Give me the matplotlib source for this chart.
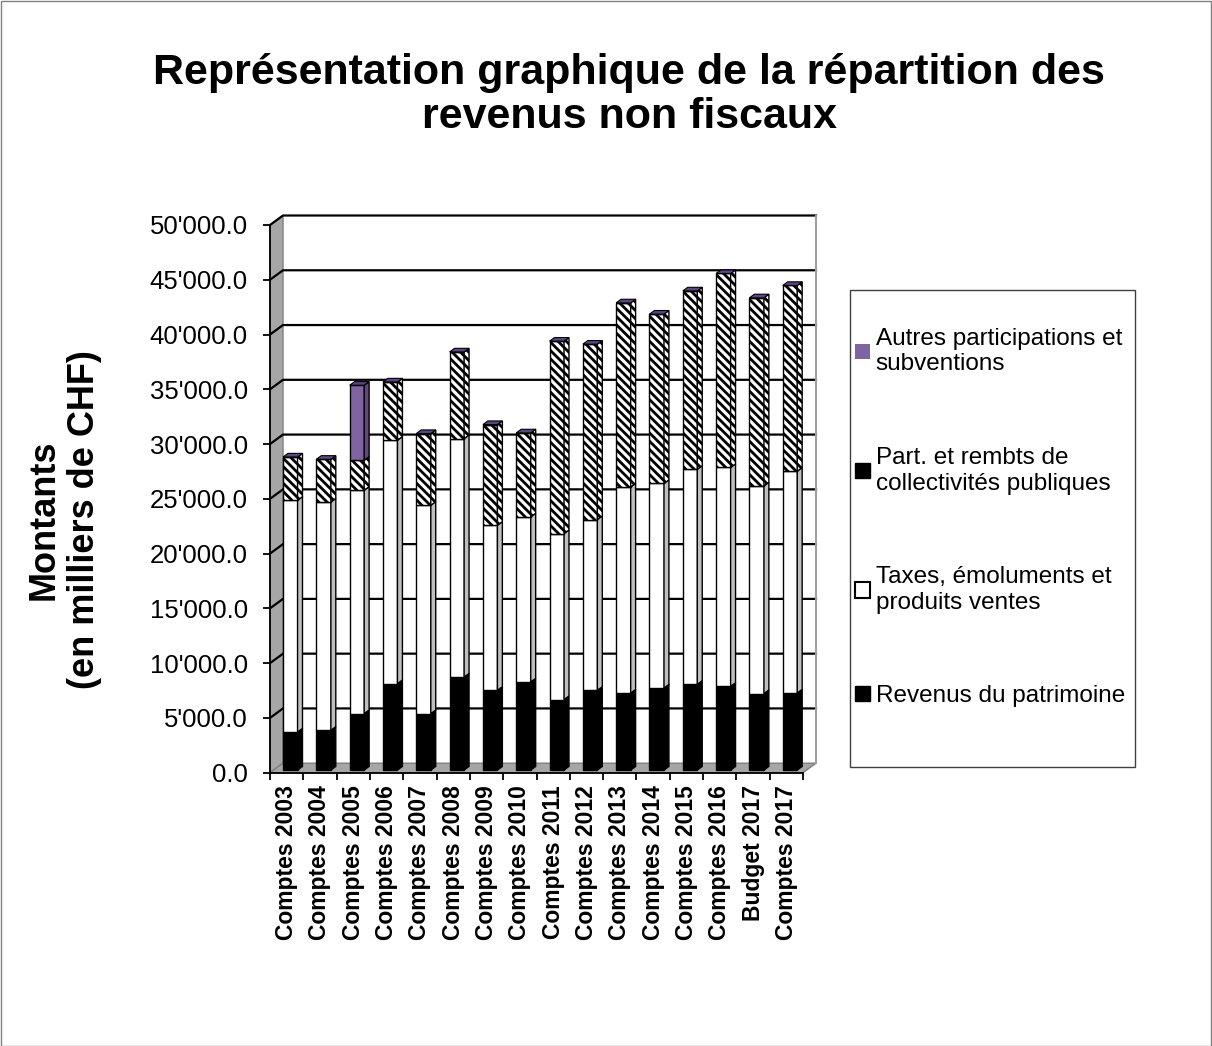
import matplotlib

matplotlib.use("Agg")
import matplotlib.pyplot as plt
from matplotlib.patches import Patch, Polygon, Rectangle

plt.rcParams["font.family"] = ["Liberation Sans", "DejaVu Sans"]
plt.rcParams["hatch.linewidth"] = 2.0
plt.rcParams["hatch.color"] = "black"

# data (milliers de CHF)
categories = ["Comptes 2003", "Comptes 2004", "Comptes 2005", "Comptes 2006",
              "Comptes 2007", "Comptes 2008", "Comptes 2009", "Comptes 2010",
              "Comptes 2011", "Comptes 2012", "Comptes 2013", "Comptes 2014",
              "Comptes 2015", "Comptes 2016", "Budget 2017", "Comptes 2017"]
revenus_patrimoine = [3470, 3630, 5150, 7890, 5150, 8490, 7280, 8040,
                      6430, 7280, 7030, 7490, 7830, 7640, 6980, 7030]
taxes_emoluments = [21160, 20840, 20390, 22220, 19020, 21770, 15070, 15070,
                    15160, 15590, 18810, 18670, 19630, 19980, 18960, 20250]
part_collectivites = [3950, 3900, 2740, 5320, 6550, 7910, 9190, 7670,
                      17560, 16010, 16810, 15460, 16280, 17710, 17170, 16960]
autres_participations = [0, 0, 6850, 0, 0, 0, 0, 0,
                         0, 0, 0, 0, 0, 0, 0, 0]

series_labels = ["Revenus du patrimoine", "Taxes, émoluments et\nproduits ventes",
                 "Part. et rembts de\ncollectivités publiques",
                 "Autres participations et\nsubventions"]
yticks = list(range(0, 50001, 5000))

PURPLE = "#8064A2"
CAP = "#5B4683"
HATCH = "\\\\\\\\"

W, H = 1212, 1046
fig = plt.figure(figsize=(W / 100, H / 100), dpi=100)
ax_left, ax_right, ax_bottom, ax_top = 270, 803, 772.7, 225
ax = fig.add_axes([ax_left / W, 1 - ax_bottom / H,
                   (ax_right - ax_left) / W, (ax_bottom - ax_top) / H])
n = len(categories)
ax.set_xlim(0, n)
ax.set_ylim(0, 50000)
ax.patch.set_visible(False)
for s in ["top", "right"]:
    ax.spines[s].set_visible(False)
ax.spines["left"].set_linewidth(1.3)
ax.spines["bottom"].set_linewidth(1.3)

# depth of the pseudo 3D box, in data units
px_x = (ax_right - ax_left) / n
px_y = (ax_bottom - ax_top) / 50000
DX = 13 / px_x
DY = 9.5 / px_y

# left wall and floor
ax.add_patch(Polygon([(0, 0), (DX, DY), (DX, 50000 + DY), (0, 50000)],
                     closed=True, facecolor="#A6A6A6", edgecolor="#7F7F7F",
                     lw=1, clip_on=False, zorder=0))
ax.add_patch(Polygon([(0, 0), (n, 0), (n + DX, DY), (DX, DY)], closed=True,
                     facecolor="#A6A6A6", edgecolor="#7F7F7F", lw=1,
                     clip_on=False, zorder=0))
# back wall grid lines
for v in yticks[1:]:
    ax.plot([0, DX, n + DX], [v, v + DY, v + DY], color="black", lw=1.6,
            clip_on=False, zorder=1)
ax.plot([n + DX, n + DX], [DY, 50000 + DY], color="#A0A0A0", lw=1.5,
        clip_on=False, zorder=1)

# stacked bars
bw = 14.5 / px_x
bx0, by0 = 0.28 * DX, 0.28 * DY
ddx, ddy = 0.38 * DX, 0.38 * DY
centers = [i + 0.5 for i in range(n)]
stack = [
    (revenus_patrimoine, dict(facecolor="black"), "black", None),
    (taxes_emoluments, dict(facecolor="white"), "#BFBFBF", None),
    (part_collectivites, dict(facecolor="white", hatch=HATCH), "white", HATCH),
    (autres_participations, dict(facecolor=PURPLE), "#5E4A80", None),
]
bottoms = [0.0] * n
for vals, style, side_color, side_hatch in stack:
    ax.bar([c + bx0 for c in centers], vals, width=bw,
           bottom=[b + by0 for b in bottoms], edgecolor="black", lw=1,
           zorder=3, **style)
    for i, v in enumerate(vals):
        if v <= 0:
            continue
        xr = centers[i] + bx0 + bw / 2
        b0 = bottoms[i] + by0
        b1 = b0 + v
        ax.add_patch(Polygon([(xr, b0), (xr + ddx, b0 + ddy),
                              (xr + ddx, b1 + ddy), (xr, b1)], closed=True,
                             facecolor=side_color, edgecolor="black", lw=1,
                             hatch=side_hatch, zorder=3, clip_on=False))
    bottoms = [b + v for b, v in zip(bottoms, vals)]

# top caps
for c, t in zip(centers, bottoms):
    xl = c + bx0 - bw / 2
    xr = c + bx0 + bw / 2
    top = t + by0
    ax.add_patch(Polygon([(xl, top), (xr, top), (xr + ddx, top + ddy),
                          (xl + ddx, top + ddy)], closed=True, facecolor=CAP,
                         edgecolor="black", lw=0.8, zorder=4, clip_on=False))

# axes ticks
ax.set_yticks(yticks)
ax.set_yticklabels([f"{v:,.1f}".replace(",", "'") for v in yticks], fontsize=18.5)
ax.tick_params(axis="y", direction="out", length=5, width=1.3, pad=11)
ax.set_xticks(range(n + 1))
ax.set_xticklabels([])
ax.tick_params(axis="x", which="major", direction="out", length=5, width=1.3)
ax.set_xticks(centers, minor=True)
ax.set_xticklabels(categories, minor=True, rotation=90, fontsize=16.5,
                   fontweight="bold", va="top", ha="center")
ax.tick_params(axis="x", which="minor", length=0, pad=9)

# titles
fig.text(629 / W, 1 - 95 / H,
         "Représentation graphique de la répartition des\nrevenus non fiscaux",
         ha="center", va="center", fontsize=31, fontweight="bold", linespacing=1.12)
fig.text(64 / W, 1 - 520 / H, "Montants\n(en milliers de CHF)", rotation=90,
         ha="center", va="center", fontsize=26, fontweight="bold",
         multialignment="center", linespacing=1.2)

# legend
handles = [
    Patch(facecolor=PURPLE, edgecolor="none"),
    Patch(facecolor="black", edgecolor="black", hatch="\\\\"),
    Patch(facecolor="white", edgecolor="black", lw=1.5),
    Patch(facecolor="black", edgecolor="black"),
]
leg = fig.legend(handles, series_labels[::-1], loc="upper left",
                 bbox_to_anchor=(855 / W, 1 - 328 / H), frameon=False,
                 fontsize=17.5, labelspacing=2.95, handlelength=0.6,
                 handleheight=0.6, handletextpad=0.25, borderpad=0,
                 borderaxespad=0)
for t in leg.get_texts():
    t.set_linespacing(1.2)
fig.add_artist(Rectangle((850 / W, 1 - 767 / H), 285 / W, 477 / H,
                         transform=fig.transFigure, fill=False,
                         edgecolor="#404040", lw=1))
fig.add_artist(Rectangle((0.5 / W, 0.5 / H), (W - 1.5) / W, (H - 1.5) / H,
                         transform=fig.transFigure, fill=False,
                         edgecolor="#808080", lw=1))

fig.savefig("out.png", dpi=100)
